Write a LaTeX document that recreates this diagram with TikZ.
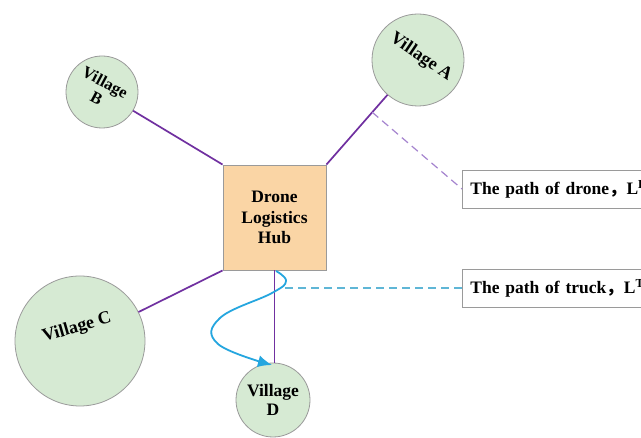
\documentclass[tikz,border=0pt]{standalone}
\usepackage{fontspec}
\setmainfont{Liberation Serif}
\newfontfamily\cjk{Noto Sans CJK SC}
\usetikzlibrary{arrows.meta,calc}
\definecolor{villfill}{HTML}{D6EAD3}
\definecolor{hubfill}{HTML}{FAD5A5}
\definecolor{edgegray}{HTML}{9A9A9A}
\definecolor{dronepurple}{HTML}{7030A0}
\definecolor{dashpurple}{HTML}{A584CF}
\definecolor{truckblue}{HTML}{25A6DF}
\definecolor{dashcyan}{HTML}{5FB6D6}
\tikzset{
  village/.style={circle, draw=edgegray, line width=0.8pt, fill=villfill, align=center,
    font=\bfseries\fontsize{17.5}{19}\selectfont, inner sep=0pt},
  vtext/.style={align=center, inner sep=1pt, font=\bfseries\fontsize{18}{19}\selectfont},
  hubbox/.style={rectangle, draw=edgegray, line width=0.9pt, fill=hubfill, align=center,
    minimum width=103pt, minimum height=105pt, font=\bfseries\fontsize{17.5}{20.5}\selectfont},
  labelbox/.style={rectangle, draw=edgegray, line width=0.7pt, fill=white, anchor=west,
    minimum height=38pt, minimum width=230pt, text width=214pt, inner xsep=8pt, align=left,
    font=\bfseries\fontsize{17.5}{19}\selectfont},
  droneline/.style={draw=dronepurple, line width=1.7pt},
  dronedash/.style={draw=dashpurple, line width=1.2pt, dash pattern=on 8pt off 5pt},
  truckdash/.style={draw=dashcyan, line width=1.2pt, dash pattern=on 8pt off 5pt},
  truckpath/.style={draw=truckblue, line width=1.8pt, -{Latex[length=14pt,width=12pt]}}
}
\begin{document}
\begin{tikzpicture}[x=1pt,y=-1pt]
\useasboundingbox (0,0) rectangle (641,438);
\clip (0,0) rectangle (641,438);
\fill[white] (0,0) rectangle (641,438);
% nodes
\node[hubbox] (hub) at (274.5,217.5) {Drone\\Logistics\\Hub};
\node[village, minimum size=92pt] (A) at (418,60) {};
\node[vtext, rotate=-34] (Atext) at (421,57) {Village A};
\node[village, minimum size=72pt] (B) at (102,92) {};
\node[vtext, rotate=-28, font=\bfseries\fontsize{16.5}{18}\selectfont] (Btext) at (101,90) {Village\\B};
\node[village, minimum size=130pt] (C) at (80,341) {};
\node[vtext, rotate=16] (Ctext) at (77,328) {Village C};
\node[village, minimum size=74pt] (D) at (273,400) {Village\\D};
\node[labelbox] (ldrone) at (462,189) {The path of drone{\cjk ，}L$^{\mathbf{D}}$};
\node[labelbox] (ltruck) at (462,288) {The path of truck{\cjk ，}L$^{\mathbf{T}}$};
% drone paths
\draw[droneline] (B) -- (hub.north west);
\draw[droneline] (A) -- (hub.north east);
\draw[droneline] (C) -- (hub.south west);
\draw[droneline] (hub.south) -- (hub.south |- D.north);
\coordinate (pd) at ($(A.center)!0.5!(hub.north east)$);
% truck path
\coordinate (pt) at (285,288);
\draw[truckpath] plot[smooth, tension=0.7] coordinates {(276,271) (286,281) (272,293) (220,318) (218,344) (272,365)};
% dashed leaders
\draw[dronedash] (pd) -- (ldrone.west);
\draw[truckdash] (pt) -- (ltruck.west);
\end{tikzpicture}
\end{document}
